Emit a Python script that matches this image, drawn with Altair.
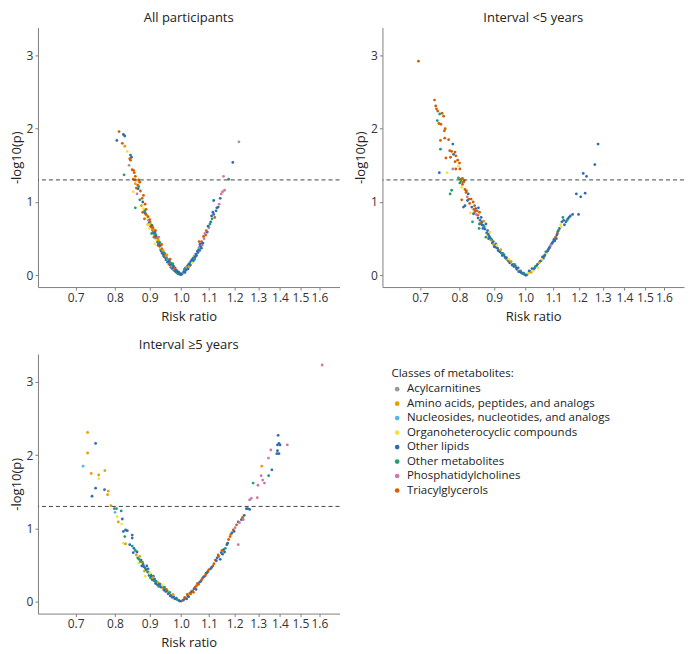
import altair as alt
import pandas as pd

PANELS = ["All participants", "Interval <5 years", "Interval \u22655 years"]
CLASSES = ["Acylcarnitines", "Amino acids, peptides, and analogs",
           "Nucleosides, nucleotides, and analogs", "Organoheterocyclic compounds",
           "Other lipids", "Other metabolites", "Phosphatidylcholines", "Triacylglycerols"]
CODES = ["A", "M", "N", "O", "L", "X", "P", "T"]
COLORS = ["#999999", "#E69F00", "#56B4E9", "#F0E442", "#2F6DB0", "#1F9E73", "#CC79A7", "#D55E00"]
X_TICKS = [0.7, 0.8, 0.9, 1.0, 1.1, 1.2, 1.3, 1.4, 1.5, 1.6]
Y_TICKS = [0, 1, 2, 3]
THRESHOLD = [1.301]

# (risk ratio, -log10(p), class code)
ALL_PTS = [
 (0.811,1.96,"T"),(0.823,1.92,"L"),(0.827,1.90,"L"),(0.805,1.84,"L"),(0.820,1.80,"T"),(0.827,1.76,"M"),
 (0.834,1.69,"O"),(0.843,1.64,"L"),(0.846,1.61,"L"),(0.841,1.59,"T"),(0.843,1.57,"T"),(0.839,1.50,"A"),
 (0.848,1.44,"T"),(0.852,1.43,"T"),(0.854,1.40,"T"),(0.825,1.37,"X"),(0.857,1.35,"T"),(0.851,1.31,"T"),
 (0.857,1.30,"T"),(0.862,1.29,"O"),(0.867,1.30,"T"),(0.870,1.27,"T"),(0.857,1.25,"M"),(0.864,1.23,"T"),
 (0.867,1.21,"X"),(0.860,1.19,"T"),(0.865,1.18,"L"),(0.851,1.14,"O"),(0.872,1.15,"T"),(0.862,1.11,"P"),
 (0.881,1.09,"T"),(0.877,1.05,"T"),(0.870,1.03,"X"),(0.879,1.00,"L"),(0.886,0.97,"T"),(0.875,0.95,"M"),
 (0.857,0.92,"X"),(0.881,0.91,"O"),(0.889,0.90,"T"),(0.879,0.86,"T"),(0.886,0.85,"L"),(0.891,0.82,"M"),
 (0.884,0.77,"T"),(0.896,0.75,"P"),(0.901,0.73,"T"),(0.894,0.69,"M"),(0.903,0.67,"L"),(0.899,0.64,"O"),
 (0.909,0.61,"T"),(0.906,0.57,"X"),(0.916,0.59,"L"),(0.913,0.52,"T"),(0.919,0.50,"L"),(0.923,0.47,"M"),
 (0.916,0.43,"O"),(0.926,0.41,"L"),(0.932,0.39,"X"),(0.934,0.35,"L"),(0.940,0.31,"T"),(0.947,0.29,"L"),
 (0.944,0.26,"X"),(0.953,0.23,"L"),(0.958,0.20,"M"),(0.963,0.17,"L"),(0.968,0.13,"T"),(0.974,0.10,"L"),
 (0.979,0.08,"X"),(0.987,0.04,"L"),(0.996,0.02,"L"),(1.004,0.02,"L"),(1.007,0.03,"A"),
 (0.885,0.88,"X"),(0.888,0.83,"T"),(0.892,0.79,"O"),(0.895,0.80,"T"),(0.898,0.71,"L"),(0.900,0.76,"T"),
 (0.902,0.70,"M"),(0.905,0.66,"T"),(0.907,0.68,"L"),(0.908,0.63,"P"),(0.910,0.65,"T"),(0.912,0.58,"L"),
 (0.914,0.62,"M"),(0.915,0.55,"T"),(0.918,0.56,"X"),(0.920,0.53,"L"),(0.921,0.49,"O"),(0.924,0.51,"T"),
 (0.925,0.45,"L"),(0.927,0.48,"M"),(0.929,0.43,"L"),(0.930,0.40,"T"),(0.931,0.45,"X"),(0.933,0.41,"L"),
 (0.935,0.37,"O"),(0.936,0.33,"L"),(0.938,0.36,"T"),(0.939,0.30,"L"),(0.941,0.34,"M"),(0.943,0.28,"L"),
 (0.945,0.31,"X"),(0.946,0.25,"L"),(0.948,0.27,"T"),(0.950,0.24,"L"),(0.951,0.21,"L"),(0.952,0.26,"A"),
 (0.955,0.22,"X"),(0.956,0.18,"L"),(0.957,0.21,"P"),(0.960,0.19,"L"),(0.961,0.15,"T"),(0.962,0.20,"L"),
 (0.965,0.14,"L"),(0.966,0.17,"X"),(0.967,0.11,"L"),(0.970,0.12,"M"),(0.971,0.15,"L"),(0.972,0.09,"L"),
 (0.975,0.13,"L"),(0.976,0.07,"A"),(0.977,0.11,"L"),(0.980,0.06,"L"),(0.981,0.10,"T"),(0.983,0.05,"L"),
 (0.985,0.07,"L"),(0.988,0.03,"X"),(0.990,0.05,"L"),(0.992,0.02,"L"),(0.994,0.04,"L"),(0.998,0.01,"L"),
 (1.000,0.02,"L"),(1.002,0.01,"L"),(0.896,0.69,"O"),(0.918,0.61,"T"),(0.928,0.52,"P"),(0.937,0.42,"T"),
 (0.954,0.28,"M"),(0.964,0.22,"T"),(0.973,0.16,"X"),
 (1.016,0.10,"L"),(1.023,0.13,"L"),(1.031,0.17,"X"),(1.038,0.21,"L"),(1.046,0.26,"M"),(1.052,0.29,"L"),
 (1.058,0.33,"L"),(1.064,0.38,"P"),(1.067,0.42,"L"),(1.073,0.46,"T"),(1.082,0.50,"P"),(1.088,0.55,"T"),
 (1.094,0.59,"L"),(1.100,0.65,"P"),(1.107,0.73,"L"),(1.112,0.77,"X"),(1.118,0.83,"L"),(1.127,0.88,"L"),
 (1.135,0.93,"L"),(1.139,0.97,"P"),(1.118,1.02,"L"),(1.147,1.11,"P"),(1.152,1.14,"P"),(1.156,1.35,"P"),
 (1.176,1.31,"X"),(1.193,1.54,"L"),(1.218,1.82,"A"),
 (1.010,0.05,"L"),(1.012,0.08,"X"),(1.014,0.04,"L"),(1.018,0.07,"L"),(1.020,0.11,"A"),(1.025,0.09,"L"),
 (1.027,0.15,"L"),(1.029,0.12,"M"),(1.033,0.14,"L"),(1.035,0.19,"L"),(1.040,0.17,"O"),(1.042,0.23,"L"),
 (1.044,0.20,"L"),(1.048,0.22,"X"),(1.050,0.25,"L"),(1.055,0.27,"L"),(1.060,0.31,"L"),(1.062,0.35,"X"),
 (1.066,0.34,"L"),(1.070,0.40,"L"),(1.071,0.43,"L"),(1.075,0.41,"P"),(1.078,0.44,"L"),(1.080,0.53,"T"),
 (1.085,0.57,"P"),(1.090,0.61,"T"),(1.097,0.67,"L"),(1.104,0.70,"X"),(1.110,0.81,"L"),(1.115,0.86,"L"),
 (1.122,0.79,"T"),(1.130,0.92,"L"),(1.143,1.05,"L"),(1.160,1.16,"P"),(1.064,0.46,"T"),(1.072,0.37,"L"),
]

LT5_PTS = [
 (0.696,2.92,"T"),(0.735,2.39,"T"),(0.738,2.31,"T"),(0.740,2.27,"T"),(0.743,2.24,"T"),(0.754,2.21,"T"),
 (0.758,2.17,"T"),(0.748,2.20,"X"),(0.742,2.11,"X"),(0.746,2.07,"T"),(0.751,2.06,"T"),(0.762,2.00,"T"),
 (0.760,1.97,"T"),(0.750,1.84,"T"),(0.761,1.87,"T"),(0.771,1.85,"T"),(0.782,1.79,"L"),(0.774,1.70,"T"),
 (0.779,1.69,"T"),(0.788,1.68,"T"),(0.784,1.65,"L"),(0.750,1.72,"X"),(0.776,1.61,"T"),(0.790,1.63,"T"),
 (0.795,1.57,"T"),(0.764,1.60,"T"),(0.788,1.55,"T"),(0.800,1.53,"T"),(0.797,1.49,"O"),(0.782,1.45,"P"),
 (0.790,1.45,"T"),(0.801,1.45,"T"),(0.747,1.40,"L"),(0.767,1.40,"O"),(0.797,1.33,"X"),(0.803,1.31,"T"),
 (0.808,1.32,"T"),(0.813,1.29,"T"),(0.801,1.26,"X"),(0.808,1.24,"T"),(0.806,1.20,"O"),(0.815,1.17,"T"),
 (0.779,1.16,"X"),(0.775,1.11,"X"),(0.819,1.15,"T"),(0.824,1.11,"L"),(0.821,1.07,"P"),(0.826,1.04,"T"),
 (0.806,1.03,"T"),(0.815,0.95,"L"),(0.811,0.93,"L"),(0.832,1.04,"T"),(0.838,1.00,"T"),(0.842,0.95,"T"),
 (0.845,0.91,"L"),(0.849,0.88,"T"),(0.856,0.86,"T"),(0.830,0.85,"O"),(0.839,0.84,"L"),(0.851,0.82,"T"),
 (0.861,0.79,"L"),(0.836,0.73,"X"),(0.856,0.70,"L"),(0.864,0.73,"L"),(0.867,0.68,"L"),(0.875,0.70,"L"),
 (0.855,0.64,"X"),(0.866,0.64,"L"),(0.880,0.61,"L"),(0.887,0.59,"O"),(0.875,0.52,"X"),(0.883,0.50,"L"),
 (0.890,0.48,"M"),(0.897,0.46,"L"),(0.905,0.43,"L"),(0.900,0.39,"L"),(0.910,0.37,"L"),(0.915,0.33,"X"),
 (0.923,0.30,"L"),(0.930,0.28,"L"),(0.936,0.23,"L"),(0.941,0.21,"M"),(0.951,0.18,"L"),(0.959,0.15,"X"),
 (0.967,0.13,"L"),(0.976,0.10,"L"),(0.984,0.06,"L"),(0.989,0.03,"L"),(0.998,0.01,"L"),
 (0.828,0.98,"T"),(0.834,0.93,"L"),(0.840,0.90,"T"),(0.843,0.87,"T"),(0.847,0.83,"P"),(0.852,0.78,"L"),
 (0.858,0.75,"L"),(0.860,0.71,"T"),(0.863,0.69,"L"),(0.870,0.66,"X"),(0.872,0.63,"L"),(0.877,0.58,"L"),
 (0.879,0.55,"O"),(0.882,0.56,"L"),(0.885,0.53,"L"),(0.888,0.51,"L"),(0.892,0.49,"X"),(0.894,0.44,"L"),
 (0.898,0.42,"M"),(0.902,0.40,"L"),(0.906,0.38,"L"),(0.908,0.41,"O"),(0.912,0.34,"L"),(0.918,0.32,"L"),
 (0.920,0.35,"M"),(0.925,0.27,"L"),(0.927,0.30,"X"),(0.933,0.25,"L"),(0.938,0.24,"L"),(0.944,0.20,"L"),
 (0.946,0.22,"O"),(0.948,0.17,"L"),(0.953,0.19,"M"),(0.956,0.14,"L"),(0.962,0.12,"L"),(0.964,0.15,"X"),
 (0.970,0.10,"L"),(0.972,0.08,"L"),(0.979,0.07,"O"),(0.981,0.05,"L"),(0.986,0.04,"L"),(0.993,0.02,"L"),
 (0.995,0.03,"X"),(0.818,1.13,"T"),(0.822,1.02,"L"),(0.805,1.28,"X"),(0.811,1.27,"T"),(0.853,0.92,"L"),
 (0.869,0.74,"M"),
 (0.978,0.05,"L"),(1.006,0.01,"L"),(1.017,0.05,"L"),(1.028,0.08,"L"),(1.039,0.13,"L"),(1.045,0.10,"O"),
 (1.051,0.19,"L"),(1.063,0.23,"L"),(1.069,0.28,"L"),(1.075,0.30,"O"),(1.081,0.35,"L"),(1.087,0.39,"L"),
 (1.093,0.43,"L"),(1.099,0.46,"L"),(1.105,0.47,"L"),(1.111,0.50,"L"),(1.115,0.57,"T"),(1.117,0.60,"L"),
 (1.123,0.64,"L"),(1.127,0.69,"O"),(1.132,0.73,"L"),(1.136,0.79,"X"),(1.142,0.69,"L"),(1.148,0.73,"L"),
 (1.155,0.77,"L"),(1.165,0.81,"L"),(1.174,0.83,"L"),(1.198,0.83,"L"),(1.189,1.11,"L"),(1.207,1.07,"L"),
 (1.225,1.12,"L"),(1.217,1.39,"L"),(1.231,1.35,"L"),(1.266,1.51,"L"),(1.280,1.79,"L"),
 (1.002,0.00,"L"),(1.010,0.03,"O"),(1.013,0.06,"L"),(1.020,0.04,"M"),(1.023,0.09,"L"),(1.025,0.06,"O"),
 (1.032,0.10,"L"),(1.035,0.12,"X"),(1.042,0.15,"L"),(1.048,0.17,"M"),(1.055,0.20,"L"),(1.058,0.22,"O"),
 (1.060,0.25,"L"),(1.066,0.26,"L"),(1.072,0.32,"X"),(1.078,0.33,"L"),(1.084,0.37,"L"),(1.090,0.41,"P"),
 (1.096,0.44,"L"),(1.102,0.49,"L"),(1.108,0.52,"T"),(1.113,0.55,"L"),(1.120,0.62,"X"),(1.130,0.66,"O"),
 (1.139,0.75,"L"),(1.152,0.75,"X"),(1.160,0.79,"L"),
]

GE5_PTS = [
 (1.615,3.23,"P"),
 (0.729,2.31,"M"),(0.749,2.16,"L"),(0.729,2.03,"M"),(0.718,1.85,"N"),(0.738,1.75,"M"),(0.757,1.73,"M"),
 (0.757,1.68,"O"),(0.773,1.79,"M"),(0.749,1.55,"L"),(0.772,1.53,"L"),(0.782,1.51,"M"),(0.780,1.46,"M"),
 (0.740,1.44,"L"),(0.789,1.31,"M"),(0.798,1.27,"X"),(0.804,1.27,"X"),(0.817,1.24,"X"),(0.800,1.22,"N"),
 (0.806,1.16,"O"),(0.820,1.13,"L"),(0.809,1.09,"M"),(0.818,1.06,"O"),(0.829,0.98,"L"),(0.823,0.96,"L"),
 (0.834,0.97,"L"),(0.827,0.89,"X"),(0.848,0.91,"L"),(0.848,0.87,"L"),(0.823,0.80,"O"),(0.829,0.79,"M"),
 (0.841,0.78,"L"),(0.848,0.76,"X"),(0.853,0.73,"L"),(0.857,0.70,"X"),(0.851,0.67,"L"),(0.860,0.64,"M"),
 (0.864,0.60,"X"),(0.870,0.62,"M"),(0.874,0.57,"L"),(0.867,0.53,"O"),(0.880,0.51,"L"),(0.886,0.46,"X"),
 (0.891,0.49,"L"),(0.886,0.35,"O"),(0.896,0.40,"L"),(0.903,0.37,"X"),(0.911,0.35,"L"),(0.906,0.31,"M"),
 (0.916,0.28,"X"),(0.921,0.26,"L"),(0.932,0.24,"X"),(0.937,0.22,"L"),(0.942,0.19,"M"),(0.947,0.17,"L"),
 (0.955,0.15,"X"),(0.961,0.12,"L"),(0.968,0.09,"T"),(0.976,0.07,"L"),(0.985,0.05,"L"),(0.993,0.02,"L"),
 (1.001,0.01,"L"),(1.007,0.02,"T"),
 (0.872,0.55,"X"),(0.878,0.54,"T"),(0.882,0.48,"L"),(0.884,0.42,"M"),(0.889,0.44,"L"),(0.893,0.41,"X"),
 (0.895,0.45,"L"),(0.898,0.36,"L"),(0.900,0.39,"O"),(0.902,0.33,"X"),(0.905,0.35,"L"),(0.908,0.30,"L"),
 (0.910,0.33,"M"),(0.913,0.29,"X"),(0.915,0.31,"L"),(0.918,0.25,"L"),(0.920,0.28,"X"),(0.924,0.23,"L"),
 (0.926,0.26,"M"),(0.928,0.21,"X"),(0.930,0.24,"L"),(0.935,0.20,"L"),(0.939,0.23,"O"),(0.944,0.16,"L"),
 (0.946,0.20,"X"),(0.950,0.14,"L"),(0.952,0.17,"T"),(0.958,0.11,"L"),(0.963,0.13,"X"),(0.965,0.08,"L"),
 (0.972,0.06,"L"),(0.974,0.10,"M"),(0.980,0.04,"L"),(0.988,0.03,"X"),(0.996,0.01,"L"),(0.862,0.68,"L"),
 (0.868,0.58,"X"),(0.876,0.49,"L"),
 (1.016,0.05,"T"),(1.024,0.08,"L"),(1.031,0.12,"T"),(1.041,0.15,"T"),(1.046,0.18,"L"),(1.055,0.22,"T"),
 (1.062,0.24,"T"),(1.070,0.28,"L"),(1.076,0.32,"T"),(1.085,0.35,"T"),(1.090,0.39,"L"),(1.097,0.42,"T"),
 (1.106,0.45,"L"),(1.115,0.49,"T"),(1.124,0.57,"T"),(1.131,0.60,"L"),(1.137,0.62,"T"),(1.147,0.67,"L"),
 (1.156,0.71,"L"),(1.163,0.73,"X"),(1.143,0.58,"L"),(1.152,0.65,"L"),(1.169,0.78,"L"),(1.176,0.85,"T"),
 (1.182,0.89,"T"),(1.189,0.94,"L"),(1.195,0.98,"T"),(1.215,0.78,"P"),(1.202,1.01,"P"),(1.208,1.05,"T"),
 (1.215,1.09,"L"),(1.228,1.12,"L"),(1.240,1.18,"L"),(1.236,1.12,"P"),(1.249,1.27,"L"),(1.263,1.26,"L"),
 (1.263,1.39,"P"),(1.270,1.41,"P"),(1.296,1.42,"P"),(1.278,1.62,"X"),(1.299,1.59,"P"),(1.313,1.72,"P"),
 (1.320,1.66,"P"),(1.328,1.62,"P"),(1.316,1.85,"M"),(1.347,1.72,"X"),(1.362,1.80,"L"),(1.346,1.96,"P"),
 (1.357,2.07,"P"),(1.391,2.27,"L"),(1.388,2.14,"L"),(1.395,2.16,"L"),(1.400,2.14,"L"),(1.388,2.06,"L"),
 (1.385,2.02,"L"),(1.395,2.02,"L"),(1.435,2.14,"P"),
 (1.010,0.03,"L"),(1.013,0.06,"T"),(1.020,0.04,"L"),(1.022,0.10,"T"),(1.027,0.07,"L"),(1.034,0.11,"T"),
 (1.037,0.14,"L"),(1.044,0.13,"T"),(1.050,0.20,"T"),(1.053,0.17,"L"),(1.058,0.25,"T"),(1.066,0.27,"L"),
 (1.073,0.30,"T"),(1.080,0.34,"L"),(1.088,0.37,"T"),(1.094,0.40,"L"),(1.100,0.44,"T"),(1.110,0.47,"L"),
 (1.119,0.52,"T"),(1.128,0.56,"L"),(1.135,0.64,"T"),(1.150,0.70,"T"),(1.160,0.68,"L"),(1.172,0.80,"L"),
 (1.185,0.92,"T"),(1.198,0.96,"L"),(1.220,1.08,"P"),(1.233,1.15,"T"),(1.255,1.27,"L"),
]

code_to_class = dict(zip(CODES, CLASSES))
rows = []
for name, pts in zip(PANELS, [ALL_PTS, LT5_PTS, GE5_PTS]):
    for rr, lp, c in pts:
        rows.append({"panel": name, "rr": rr, "lp": lp, "cls": code_to_class[c]})
df = pd.DataFrame(rows)
thr = pd.DataFrame({"y": THRESHOLD})

W, H = 302, 260
FONT = "Open Sans"

legend = alt.Legend(
    title="Classes of metabolites:", orient="none", legendX=354, legendY=341,
    symbolType="circle", symbolSize=22, symbolStrokeWidth=0,
    titleFontSize=11.5, titleFontWeight="normal", titleFont=FONT, titleColor="#222222",
    labelFontSize=11.5, labelFont=FONT, labelColor="#222222", labelLimit=400,
    rowPadding=1.5, titlePadding=4, labelOffset=4,
)


def panel(name):
    pts = alt.Chart(df).transform_filter(alt.datum.panel == name).mark_circle(
        size=8, opacity=1
    ).encode(
        x=alt.X("rr:Q", title="Risk ratio",
                scale=alt.Scale(type="log", domain=[0.616, 1.713], nice=False),
                axis=alt.Axis(values=X_TICKS, format=".1f", labelOverlap=False, titlePadding=7)),
        y=alt.Y("lp:Q", title="-log10(p)",
                scale=alt.Scale(domain=[-0.16, 3.38], nice=False, zero=False),
                axis=alt.Axis(values=Y_TICKS, format="d")),
        color=alt.Color("cls:N", scale=alt.Scale(domain=CLASSES, range=COLORS), legend=legend),
    )
    rule = alt.Chart(thr).mark_rule(strokeDash=[4, 3], color="#444444", strokeWidth=1).encode(
        y="y:Q"
    )
    return alt.layer(pts, rule).properties(
        width=W, height=H, title=alt.TitleParams(name, fontSize=13, font=FONT,
                                                 fontWeight="normal", color="#222222", offset=2)
    )


top = alt.hconcat(panel(PANELS[0]), panel(PANELS[1]), spacing=14)
chart = alt.vconcat(top, panel(PANELS[2]), spacing=16).properties(
    padding={"left": 2, "top": 4, "right": 0, "bottom": 0}
).configure_view(
    stroke=None
).configure_axis(
    grid=False, domainColor="#808080", tickColor="#808080", tickSize=3,
    labelFont=FONT, labelFontSize=12, labelColor="#333333", labelPadding=2,
    titleFont=FONT, titleFontSize=13, titleFontWeight="normal", titleColor="#222222",
    titlePadding=3,
)

chart.save("out.html", embed_options={"renderer": "svg", "actions": False})
